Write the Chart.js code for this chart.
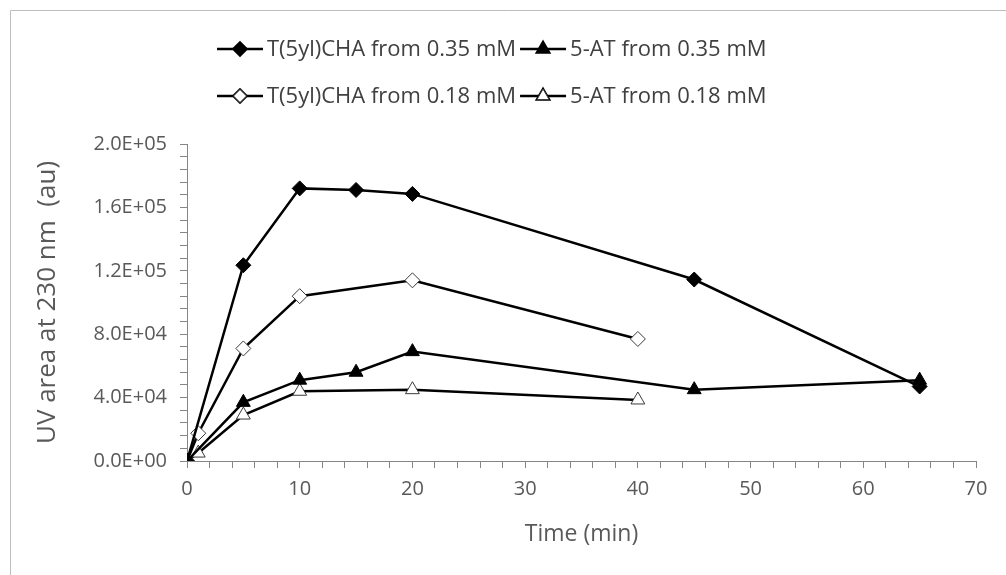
<!DOCTYPE html>
<html>
<head>
<meta charset="utf-8">
<script src="https://cdn.jsdelivr.net/npm/chart.js@4.4.1/dist/chart.umd.min.js"></script>
<style>
  html, body { margin: 0; padding: 0; background: #fff; }
  #wrap { width: 1006px; height: 575px; position: relative; }
</style>
</head>
<body>
<div id="wrap"><canvas id="uvChart" width="1006" height="575"></canvas></div>
<script>
// sampling times (min)
const timesHigh = [0, 5, 10, 15, 20, 45, 65];
const timesLow = [0, 1, 5, 10, 20, 40];

// UV peak areas at 230 nm (au)
const tchaHigh = [0, 123500, 172000, 171000, 168500, 114500, 47000];
const atHigh = [0, 37000, 51000, 56000, 69000, 45000, 51000];
const tchaLow = [0, 17500, 71000, 104000, 114000, 77000];
const atLow = [0, 5000, 29000, 44000, 45000, 38500];

const seriesNames = [
    'T(5yl)CHA from 0.35 mM',
    '5-AT from 0.35 mM',
    'T(5yl)CHA from 0.18 mM',
    '5-AT from 0.18 mM'
];

const axisGrey = '#868686';
const labelGrey = '#595959';

function pts(xs, ys) {
    return xs.map((x, i) => ({ x: x, y: ys[i] }));
}

// 2.0E+05 style labels
function sciLabel(v) {
    if (v === 0) return '0.0E+00';
    const exp = Math.floor(Math.log10(v));
    const mant = v / Math.pow(10, exp);
    return mant.toFixed(1) + 'E+' + String(exp).padStart(2, '0');
}

function series(label, xs, ys, style, filled) {
    const r = style === 'triangle' ? 8 : 7.5;
    return {
        label: label,
        data: pts(xs, ys),
        showLine: true,
        tension: 0,
        borderColor: '#000',
        borderWidth: 2.5,
        pointStyle: style,
        pointRadius: r,
        pointHoverRadius: r,
        pointBackgroundColor: filled ? '#000' : '#fff',
        pointBorderColor: filled ? '#000' : '#3a3a3a',
        pointBorderWidth: 1
    };
}

// grey frame on the top and left edges
const framePlugin = {
    id: 'frame',
    beforeDraw(chart) {
        const ctx = chart.ctx;
        ctx.save();
        ctx.strokeStyle = '#bdbdbd';
        ctx.lineWidth = 1;
        ctx.beginPath();
        ctx.moveTo(10.5, chart.height);
        ctx.lineTo(10.5, 10.5);
        ctx.lineTo(chart.width, 10.5);
        ctx.stroke();
        ctx.restore();
    }
};

// two-by-two legend with line + marker samples
const legendPlugin = {
    id: 'pairLegend',
    afterDraw(chart) {
        const ctx = chart.ctx;
        const font = '22px "Open Sans"';
        ctx.save();
        ctx.font = font;
        const sampleLen = 46;
        const col0 = 217;
        const firstText = ctx.measureText(seriesNames[0]).width;
        const cols = [col0, col0 + sampleLen + 4 + firstText + 4];
        const rows = [49, 96];
        chart.data.datasets.forEach((ds, i) => {
            const x = cols[i % 2];
            const y = rows[Math.floor(i / 2)];
            ctx.strokeStyle = '#000';
            ctx.lineWidth = 2.5;
            ctx.beginPath();
            ctx.moveTo(x, y);
            ctx.lineTo(x + sampleLen, y);
            ctx.stroke();
            Chart.helpers.drawPoint(ctx, {
                pointStyle: ds.pointStyle,
                radius: ds.pointStyle === 'triangle' ? 7 : 6.5,
                rotation: 0,
                borderWidth: 1
            }, x + sampleLen / 2, y);
            ctx.fillStyle = ds.pointBackgroundColor;
            ctx.strokeStyle = ds.pointBorderColor;
            ctx.lineWidth = 1;
            ctx.fill();
            ctx.stroke();
            ctx.fillStyle = '#404040';
            ctx.textBaseline = 'middle';
            ctx.textAlign = 'left';
            ctx.fillText(ds.label, x + sampleLen + 4, y + 1);
        });
        ctx.restore();
    }
};

const ctx = document.getElementById('uvChart').getContext('2d');
const uvChart = new Chart(ctx, {
    type: 'scatter',
    data: {
        datasets: [
            series(seriesNames[0], timesHigh, tchaHigh, 'rectRot', true),
            series(seriesNames[1], timesHigh, atHigh, 'triangle', true),
            series(seriesNames[2], timesLow, tchaLow, 'rectRot', false),
            series(seriesNames[3], timesLow, atLow, 'triangle', false)
        ]
    },
    options: {
        responsive: false,
        animation: false,
        layout: {
            padding: { top: 144, left: 30, right: 30, bottom: 23 }
        },
        plugins: {
            legend: { display: false },
            tooltip: { enabled: false }
        },
        scales: {
            x: {
                type: 'linear',
                min: 0,
                max: 70,
                afterFit(scale) { scale.height = 91; },
                border: { color: axisGrey, width: 1 },
                grid: { drawOnChartArea: false, color: axisGrey, tickLength: 7 },
                ticks: {
                    stepSize: 2,
                    autoSkip: false,
                    maxRotation: 0,
                    padding: 9,
                    color: labelGrey,
                    font: { family: 'Open Sans', size: 20 },
                    callback: v => (v % 10 === 0 ? String(v) : '')
                },
                title: {
                    display: true,
                    text: 'Time (min)',
                    color: labelGrey,
                    font: { family: 'Open Sans', size: 23 }
                }
            },
            y: {
                min: 0,
                max: 200000,
                afterFit(scale) { scale.width = 157; },
                border: { color: axisGrey, width: 1 },
                grid: { drawOnChartArea: false, color: axisGrey, tickLength: 7 },
                ticks: {
                    stepSize: 8000,
                    autoSkip: false,
                    padding: 13,
                    color: labelGrey,
                    font: { family: 'Open Sans', size: 20 },
                    callback: v => (v % 40000 === 0 ? sciLabel(v) : '')
                },
                title: {
                    display: true,
                    text: 'UV area at 230 nm  (au)',
                    color: labelGrey,
                    font: { family: 'Open Sans', size: 26 },
                    padding: { top: 2, bottom: 4 }
                }
            }
        }
    },
    plugins: [framePlugin, legendPlugin]
});
</script>
</body>
</html>
